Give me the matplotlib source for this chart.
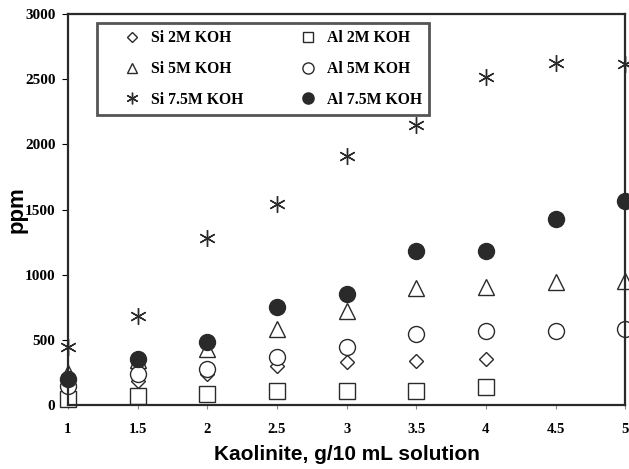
import numpy as np
import matplotlib.pyplot as plt

# kaolinite loading, g/10 mL
x_all = [1, 1.5, 2, 2.5, 3, 3.5, 4, 4.5, 5]
x_2m = [1, 1.5, 2, 2.5, 3, 3.5, 4]

si_2m = [150, 185, 238, 300, 331, 338, 354]
al_2m = [46, 69, 85, 108, 108, 108, 138]
si_5m = [250, 350, 430, 585, 723, 900, 910, 946, 954]
al_5m = [146, 238, 277, 369, 446, 546, 569, 569, 585]
si_75m = [446, 685, 1285, 1546, 1915, 2146, 2515, 2623, 2615]
al_75m = [200, 354, 485, 754, 854, 1185, 1185, 1431, 1570]

xticks = [1, 1.5, 2, 2.5, 3, 3.5, 4, 4.5, 5]
xticklabels = ["1", "1.5", "2", "2.5", "3", "3.5", "4", "4.5", "5"]
yticks = [0, 500, 1000, 1500, 2000, 2500, 3000]

fig = plt.figure(figsize=(6.29, 4.69), dpi=100)
ax = fig.add_axes([0.108, 0.136, 0.886, 0.834])

ink = "#2a2a2a"
kw = dict(linestyle="none", clip_on=False, markeredgecolor=ink, markeredgewidth=1.0)

ax.plot(x_2m, si_2m, marker="D", markersize=7.5, markerfacecolor="white", label="Si 2M KOH", **kw)
ax.plot(x_all, si_5m, marker="^", markersize=11, markerfacecolor="white", label="Si 5M KOH", **kw)
ax.plot(x_all, si_75m, marker=(6, 2, 0), markersize=12, label="Si 7.5M KOH", **kw)
ax.plot(x_2m, al_2m, marker="s", markersize=11, markerfacecolor="white", label="Al 2M KOH", **kw)
ax.plot(x_all, al_5m, marker="o", markersize=11.5, markerfacecolor="white", label="Al 5M KOH", **kw)
ax.plot(x_all, al_75m, marker="o", markersize=11.5, markerfacecolor=ink, label="Al 7.5M KOH", **kw)

ax.set_xlim(1, 5)
ax.set_ylim(0, 3000)
ax.set_xticks(xticks)
ax.set_xticklabels(xticklabels, family="Liberation Serif", fontweight="bold", fontsize=10.5)
ax.set_yticks(yticks)
ax.set_yticklabels([str(v) for v in yticks], family="Liberation Serif", fontweight="bold", fontsize=11)
ax.tick_params(axis="x", direction="out", length=3, pad=10, color="#888888")
ax.tick_params(axis="y", direction="out", length=4, pad=5)
for s in ax.spines.values():
    s.set_linewidth(1.6)
    s.set_color(ink)

ax.set_xlabel("Kaolinite, g/10 mL solution", family="Liberation Sans", fontweight="bold",
              fontsize=15, labelpad=6)
ax.set_ylabel("ppm", family="Liberation Sans", fontweight="bold", fontsize=16, labelpad=-2)

leg = ax.legend(loc="upper left", bbox_to_anchor=(0.052, 0.977), ncol=2, frameon=True,
                fancybox=False, edgecolor=ink, handlelength=3.6, handletextpad=-0.6,
                columnspacing=2.3, labelspacing=0.95, borderpad=0.45, markerscale=0.7,
                borderaxespad=0,
                prop={"family": "Liberation Serif", "weight": "bold", "size": 11.3})
leg.get_frame().set_linewidth(2)

fig.savefig("out.png", dpi=100)
